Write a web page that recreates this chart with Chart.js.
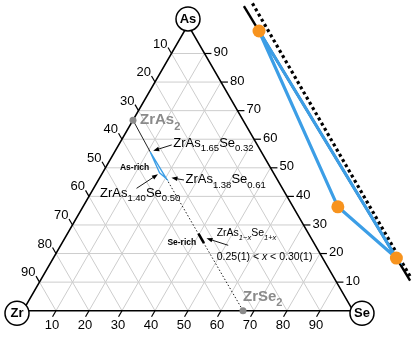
<!DOCTYPE html>
<html>
<head>
<meta charset="utf-8">
<script src="https://cdn.jsdelivr.net/npm/chart.js@4.4.0/dist/chart.umd.min.js"></script>
<style>
  html, body { margin: 0; padding: 0; background: #fff; }
  #wrap { position: relative; width: 415px; height: 361px; }
</style>
</head>
<body>
<div id="wrap"><canvas id="ternary"></canvas></div>
<script>
// ---- data ----
const tickValues = [10, 20, 30, 40, 50, 60, 70, 80, 90];
const cornerNames = ['Zr', 'Se', 'As'];
const endNames = ['ZrAs', 'ZrSe'];
const endAs = [2, 0];          // ZrAs2, ZrSe2 formula indices
const endSe = [0, 2];
const sampleAs = [1.65, 1.40, 1.38];   // ZrAs_a Se_s
const sampleSe = [0.32, 0.50, 0.61];
const seRichX = [0.19, 0.29];          // ZrAs(1-x)Se(1+x) segment
const seRichRange = ['0.25(1)', '0.30(1)'];
const insetAs = [0.567, 0.454];        // As fraction span of the enlarged ZrAs2-ZrSe2 line
const insetExtend = [-0.11, 1.10];     // solid guide through first and last sample

const FONT = '"Liberation Sans", Arial, sans-serif';
const SQ3 = Math.sqrt(3) / 2;
const BLUE = '#3c9ee6';
const ORANGE = '#f7931e';

function fromFormula(a, s) {
    const n = 1 + a + s;
    return { zr: 1 / n, as: a / n, se: s / n };
}
function cart(c) {
    return { x: c.se + c.as / 2, y: c.as * SQ3 };
}

const samples = sampleAs.map((a, i) => fromFormula(a, sampleSe[i]));
const ends = endAs.map((a, i) => fromFormula(a, endSe[i]));
const seRich = seRichX.map(x => fromFormula(1 - x, 1 + x));

// enlarged copy of the sample triangle (right side)
const INSET_K = 8.45, INSET_DX = 0.3297, INSET_DY = 0.3665;
const anchor = cart(samples[0]);
function inset(p) {
    return {
        x: anchor.x + INSET_DX + (p.x - anchor.x) * INSET_K,
        y: anchor.y + INSET_DY + (p.y - anchor.y) * INSET_K
    };
}

function line(points, color, width, extra) {
    return Object.assign({
        data: points, showLine: true, borderColor: color, borderWidth: width,
        pointRadius: 0, fill: false, tension: 0
    }, extra || {});
}

// datasets listed bottom-to-top, reversed before use
const layers = [];

tickValues.forEach(v => {
    const f = v / 100;
    layers.push(line([cart({ zr: 1 - f, as: f, se: 0 }), cart({ zr: 0, as: f, se: 1 - f })], '#cdcdcd', 1));
    layers.push(line([cart({ zr: 1 - f, as: 0, se: f }), cart({ zr: 0, as: 1 - f, se: f })], '#cdcdcd', 1));
    layers.push(line([cart({ zr: f, as: 1 - f, se: 0 }), cart({ zr: f, as: 0, se: 1 - f })], '#cdcdcd', 1));
});

const TICK = 0.021;
tickValues.forEach(v => {
    const f = v / 100;
    const b = cart({ zr: 1 - f, as: 0, se: f });
    const l = cart({ zr: f, as: 1 - f, se: 0 });
    const r = cart({ zr: 0, as: f, se: 1 - f });
    layers.push(line([b, { x: b.x - 0.5 * TICK, y: b.y - SQ3 * TICK }], '#000', 1.2));
    layers.push(line([l, { x: l.x - 0.5 * TICK, y: l.y + SQ3 * TICK }], '#000', 1.2));
    layers.push(line([r, { x: r.x + TICK, y: r.y }], '#000', 1.2));
});

const corners = [cart({ zr: 1, as: 0, se: 0 }), cart({ zr: 0, as: 0, se: 1 }), cart({ zr: 0, as: 1, se: 0 })];
layers.push(line([corners[0], corners[1], corners[2], corners[0]], '#000', 1.6));

// ZrAs2 -> ZrSe2 tie line
layers.push(line([cart(ends[0]), cart(samples[0])], '#222', 1));
layers.push(line([cart(samples[2]), cart(ends[1])], '#222', 1, { borderDash: [1.5, 2] }));
layers.push(line(seRich.map(cart), '#000', 2.6));
layers.push(line([samples[0], samples[1], samples[2], samples[0]].map(cart), BLUE, 1.3));
layers.push({
    data: ends.map(cart), showLine: false, pointRadius: 3.5,
    pointBackgroundColor: '#8a8a8a', pointBorderWidth: 0
});

// enlarged view
const pA = inset(cart(samples[0])), pC = inset(cart(samples[2]));
layers.push(line(insetAs.map(a => inset(cart({ zr: 1 / 3, as: a, se: 2 / 3 - a }))), '#000', 3.2, { borderDash: [3, 3] }));
layers.push(line(insetExtend.map(t => ({ x: pA.x + (pC.x - pA.x) * t, y: pA.y + (pC.y - pA.y) * t })), '#000', 2.4));
layers.push(line([samples[0], samples[1], samples[2], samples[0]].map(p => inset(cart(p))), BLUE, 3.2));
layers.push({
    data: samples.map(p => inset(cart(p))), showLine: false, pointRadius: 6.5,
    pointBackgroundColor: ORANGE, pointBorderWidth: 0
});

layers.reverse();

// ---- text helpers ----
function drawParts(ctx, parts, x, y, size, subSize, opt) {
    opt = opt || {};
    const weight = opt.bold ? 'bold ' : '';
    const widths = parts.map(p => {
        ctx.font = (p[2] ? 'italic ' : '') + weight + (p[1] ? subSize : size) + 'px ' + FONT;
        return ctx.measureText(p[0]).width;
    });
    const total = widths.reduce((s, w) => s + w, 0);
    let cx = opt.align === 'right' ? x - total : opt.align === 'center' ? x - total / 2 : x;
    ctx.fillStyle = opt.color || '#000';
    ctx.textAlign = 'left';
    ctx.textBaseline = 'middle';
    parts.forEach((p, i) => {
        ctx.font = (p[2] ? 'italic ' : '') + weight + (p[1] ? subSize : size) + 'px ' + FONT;
        ctx.fillText(p[0], cx, p[1] ? y + size * 0.42 : y);
        cx += widths[i];
    });
}

function arrow(ctx, tail, head) {
    const ang = Math.atan2(head.y - tail.y, head.x - tail.x);
    ctx.strokeStyle = '#000';
    ctx.lineWidth = 0.9;
    ctx.beginPath();
    ctx.moveTo(tail.x, tail.y);
    ctx.lineTo(head.x - 4 * Math.cos(ang), head.y - 4 * Math.sin(ang));
    ctx.stroke();
    ctx.fillStyle = '#000';
    ctx.beginPath();
    ctx.moveTo(head.x, head.y);
    ctx.lineTo(head.x - 6 * Math.cos(ang) + 2.3 * Math.sin(ang), head.y - 6 * Math.sin(ang) - 2.3 * Math.cos(ang));
    ctx.lineTo(head.x - 6 * Math.cos(ang) - 2.3 * Math.sin(ang), head.y - 6 * Math.sin(ang) + 2.3 * Math.cos(ang));
    ctx.closePath();
    ctx.fill();
}

const overlay = {
    id: 'overlay',
    afterDatasetsDraw(chart) {
        const ctx = chart.ctx;
        const sx = chart.scales.x, sy = chart.scales.y;
        const px = p => ({ x: sx.getPixelForValue(p.x), y: sy.getPixelForValue(p.y) });
        const off = (p, dx, dy) => ({ x: p.x + dx, y: p.y + dy });
        ctx.save();

        // axis numbers
        ctx.fillStyle = '#000';
        ctx.font = '13px ' + FONT;
        ctx.textBaseline = 'middle';
        tickValues.forEach(v => {
            const f = v / 100;
            const b = px(cart({ zr: 1 - f, as: 0, se: f }));
            const l = px(cart({ zr: f, as: 1 - f, se: 0 }));
            const r = px(cart({ zr: 0, as: f, se: 1 - f }));
            ctx.textAlign = 'center';
            ctx.fillText(String(v), b.x - 4, b.y + 15);
            ctx.textAlign = 'right';
            ctx.fillText(String(v), l.x - 4, l.y - 9.5);
            ctx.textAlign = 'left';
            ctx.fillText(String(v), r.x + 9, r.y - 1);
        });

        // corner circles
        const cornerOff = [[-6, 2.5], [9, 2.5], [0, -6]];
        corners.forEach((c, i) => {
            const p = off(px(c), cornerOff[i][0], cornerOff[i][1]);
            ctx.beginPath();
            ctx.arc(p.x, p.y, 12, 0, Math.PI * 2);
            ctx.fillStyle = '#fff';
            ctx.fill();
            ctx.lineWidth = 1.5;
            ctx.strokeStyle = '#000';
            ctx.stroke();
            ctx.fillStyle = '#000';
            ctx.font = 'bold 13px ' + FONT;
            ctx.textAlign = 'center';
            ctx.textBaseline = 'middle';
            ctx.fillText(cornerNames[i], p.x, p.y + 0.5);
        });

        // end members
        const e0 = px(cart(ends[0])), e1 = px(cart(ends[1]));
        drawParts(ctx, [[endNames[0], 0], ['2', 1]], e0.x + 7, e0.y, 15, 11, { bold: true, color: '#8a8a8a' });
        drawParts(ctx, [[endNames[1], 0], ['2', 1]], e1.x, e1.y - 14, 15, 11, { bold: true, color: '#8a8a8a' });

        // sample formulas
        const s = samples.map(p => px(cart(p)));
        const formula = i => [['ZrAs', 0], [sampleAs[i].toFixed(2), 1], ['Se', 0], [sampleSe[i].toFixed(2), 1]];
        drawParts(ctx, formula(0), s[0].x + 23, s[0].y - 9, 13, 9.5);
        arrow(ctx, off(s[0], 21.5, -7), off(s[0], 3, -1.2));
        drawParts(ctx, formula(2), s[2].x + 19, s[2].y + 1, 13, 9.5);
        arrow(ctx, off(s[2], 17.5, 1.2), off(s[2], 5, -1));
        drawParts(ctx, formula(1), s[1].x - 59.6, s[1].y + 20.3, 13, 9.5);
        arrow(ctx, off(s[1], -23, 15.6), off(s[1], -1.6, 1.6));
        drawParts(ctx, [['As-rich', 0]], s[1].x - 39.6, s[1].y - 4.7, 8.5, 8.5, { bold: true });

        // Se-rich segment
        const r0 = px(cart(seRich[0])), r1 = px(cart(seRich[1]));
        const m = { x: (r0.x + r1.x) / 2, y: (r0.y + r1.y) / 2 };
        drawParts(ctx, [['Se-rich', 0]], m.x - 5, m.y + 4, 8.5, 8.5, { bold: true, align: 'right' });
        drawParts(ctx, [['ZrAs', 0], ['1\u2212x', 1, 1], ['Se', 0], ['1+x', 1, 1]], m.x + 15.5, m.y - 5, 10.5, 7.5);
        arrow(ctx, off(m, 27, 7), off(m, 5.3, 0));
        drawParts(ctx, [[seRichRange[0] + ' < ', 0], ['x', 0, 1], [' < ' + seRichRange[1], 0]], m.x + 15.5, m.y + 18.7, 10.5, 10.5);

        ctx.restore();
    }
};

new Chart(document.getElementById('ternary'), {
    type: 'scatter',
    data: { datasets: layers },
    options: {
        responsive: true,
        maintainAspectRatio: false,
        animation: false,
        layout: { padding: 0, autoPadding: false },
        plugins: { legend: { display: false }, tooltip: { enabled: false } },
        scales: {
            x: { type: 'linear', display: false, min: -0.0697, max: 1.1879 },
            y: { type: 'linear', display: false, min: -0.1524, max: 0.9415 }
        }
    },
    plugins: [overlay]
});
</script>
</body>
</html>
